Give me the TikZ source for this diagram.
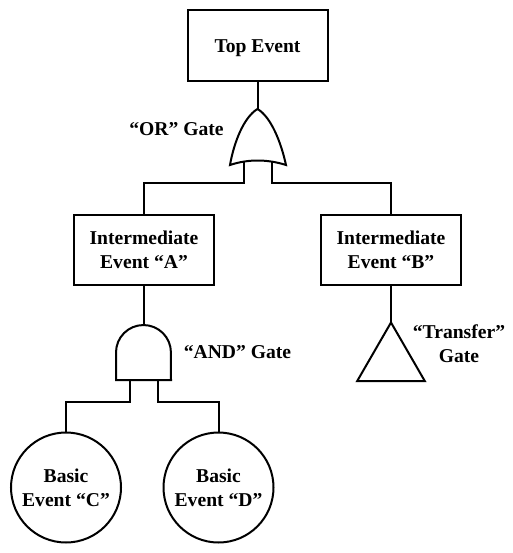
\documentclass[tikz,border=0pt]{standalone}
\usepackage{fontspec}
\setmainfont{Liberation Serif}
\usetikzlibrary{shapes.geometric}

\begin{document}
\begin{tikzpicture}[x=0.75pt,y=-0.75pt,line width=1.5pt,
    event/.style={draw,align=center,font=\fontsize{14.7}{18}\selectfont\bfseries,
      inner sep=0pt,outer sep=0pt},
    box/.style={event,minimum width=105pt,minimum height=52pt},
    basic/.style={event,circle,minimum size=82.5pt},
    label/.style={align=center,font=\fontsize{14.7}{18}\selectfont\bfseries,inner sep=0pt}]
  \useasboundingbox (0,0) rectangle (513,553);
  \node[box,minimum height=53pt,text height=11.2pt,text depth=0pt] (top) at (257.5,45.5) {Top Event};
  \node[box] (intA) at (144,250) {Intermediate\\Event “A”};
  \node[box] (intB) at (391,250) {Intermediate\\Event “B”};
  \node[basic] (basicC) at (66,487.5) {Basic\\Event “C”};
  \node[basic] (basicD) at (218.5,487.5) {Basic\\Event “D”};
  \node[draw,regular polygon,regular polygon sides=3,minimum size=58.5pt,
    inner sep=0pt,outer sep=0pt] (transfer) at (391,361.5) {};
  % OR gate
  \coordinate (orTop) at (257.5,109);
  \coordinate (orLeft) at (243.5,162);
  \coordinate (orRight) at (271.5,162);
  \draw[line join=miter] (orTop) .. controls (244,117) and (234,142) .. (230,165)
    .. controls (248,159) and (267,159) .. (286,165)
    .. controls (281,142) and (271,117) .. (orTop) -- cycle;
  % AND gate
  \coordinate (andTop) at (144,325);
  \coordinate (andLeft) at (130,380);
  \coordinate (andRight) at (158,380);
  \draw (116,380) -- (116,352.5) arc[start angle=180,end angle=0,radius=20.6pt]
    -- (171,380) -- cycle;
  \draw (top) -- (orTop);
  \draw (orLeft) |- (144,183) -- (intA);
  \draw (orRight) |- (391,183) -- (intB);
  \draw (intA) -- (andTop);
  \draw (intB) -- (transfer.corner 1);
  \draw (andLeft) |- (66,402) -- (basicC);
  \draw (andRight) |- (218.5,402) -- (basicD);
  \node[label] (orText) at (176.5,129) {“OR” Gate};
  \node[label] (andText) at (237.5,352) {“AND” Gate};
  \node[label] (transferText) at (459,344) {“Transfer”\\Gate};
\end{tikzpicture}
\end{document}
